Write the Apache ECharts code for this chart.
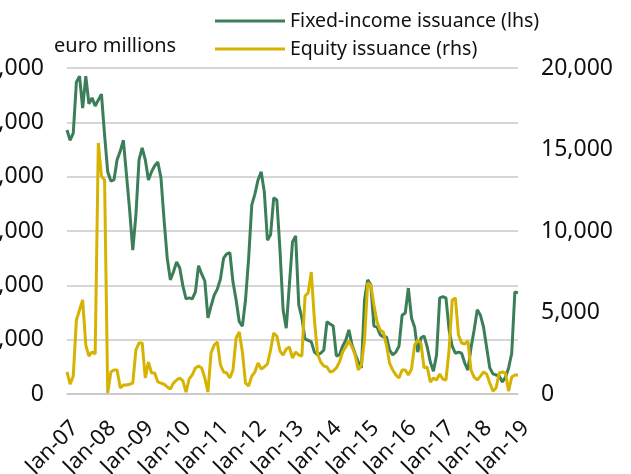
<!DOCTYPE html>
<html>
<head>
<meta charset="utf-8">
<script src="https://cdn.jsdelivr.net/npm/echarts@6/dist/echarts.min.js"></script>
<style>
html,body{margin:0;padding:0;background:#fff;}
#chart{width:631px;height:474px;}
</style>
</head>
<body>
<div id="chart"></div>
<script>
// Monthly, Jan-07 .. Jan-19
var startYear = 2007;
var monthNames = ["Jan","Feb","Mar","Apr","May","Jun","Jul","Aug","Sep","Oct","Nov","Dec"];
var categories = [];
for (var i = 0; i < 145; i++) {
  var y = startYear + Math.floor(i / 12);
  categories.push(monthNames[i % 12] + "-" + String(y % 100).padStart(2, "0"));
}

// Fixed-income issuance (lhs), euro millions
var fixedIncome = [
  48600,46700,48000,57400,58500,52600,58500,53400,54500,53000,54100,55200,
  47700,40900,39200,39400,43100,44700,46700,40300,33900,26500,32900,43100,
  45300,43100,39400,40900,42000,42700,39800,32000,25000,21000,22500,24300,
  23200,19900,17500,17700,17500,18800,23600,22100,20800,14000,16200,18200,
  19300,21200,25000,25800,26000,20600,17300,13300,12500,17300,25000,34800,
  36800,39400,40900,37200,28300,29300,36100,35700,26500,15500,12100,20100,
  28000,29100,16400,14000,10100,9900,9600,7700,7200,7500,8100,13300,
  12900,12500,7000,7200,8800,9900,11800,9000,7400,5900,4800,17300,
  21000,20100,12500,12300,10900,10500,10500,8100,7200,7700,8800,14500,
  14900,19500,14000,12300,7700,10300,10700,8700,5900,4200,7200,17700,
  17900,17700,11800,8800,7500,7700,7500,5700,4400,8500,11800,15500,
  14500,12300,8500,4800,3700,3500,3300,2200,3100,4800,7500,18800,
  18600
];

// Equity issuance (rhs), euro millions
var equity = [
  1350,600,1100,4540,5150,5770,3000,2330,2580,2450,15400,13370,
  13130,60,1350,1470,1470,370,550,550,600,670,2700,3130,
  3130,980,1960,1290,1290,740,670,600,430,310,670,860,
  980,800,120,920,1170,1600,1720,1600,980,120,2520,3000,
  3190,1780,1350,1290,980,1470,3440,3800,2580,670,490,1100,
  1350,1900,1530,1660,1840,2700,3740,3560,2640,2390,2760,2880,
  2210,2580,2390,2330,6010,6200,7480,4540,2450,1960,1720,1660,
  1350,1410,1600,1960,2580,2880,3250,2880,2390,1470,1780,3310,
  6810,6690,5460,4420,3930,3800,3000,1900,1470,1170,980,1470,
  1470,1170,1530,3000,3310,3130,1600,1660,740,980,860,1230,
  920,860,2700,5770,5890,3620,3130,3070,3250,1470,1040,860,
  1100,1350,1230,670,180,370,1290,1350,1290,180,1040,1170,
  1170
];

var leftTicks = { min: 0, max: 60000, interval: 10000 };
var rightTicks = { min: 0, max: 20000, interval: 5000 };

var GREEN = "#3b7e58";
var YELLOW = "#d6b300";
var FONT = "Noto Sans";

var chart = echarts.init(document.getElementById("chart"), null, { renderer: "canvas" });
chart.setOption({
  animation: false,
  backgroundColor: "#ffffff",
  textStyle: { fontFamily: FONT },
  grid: { left: 67, right: 113, top: 68, bottom: 80, containLabel: false, outerBoundsMode: "none" },
  legend: {
    orient: "vertical",
    left: 210,
    top: 6,
    itemWidth: 70,
    itemHeight: 3,
    itemGap: 8,
    icon: "rect",
    textStyle: { fontFamily: FONT, fontSize: 19.5, color: "#111", padding: [0, 0, 0, 0] },
    data: ["Fixed-income issuance (lhs)", "Equity issuance (rhs)"]
  },
  graphic: [{
    type: "text",
    left: 54,
    top: 36,
    style: { text: "euro millions", font: "20px 'Noto Sans'", fill: "#111" }
  }],
  xAxis: {
    type: "category",
    data: categories,
    boundaryGap: false,
    axisLine: { show: true, lineStyle: { color: "#c8c8c8", width: 1.5 } },
    axisTick: { show: false },
    axisLabel: {
      interval: 11,
      rotate: 45,
      margin: 23,
      verticalAlign: "top",
      fontFamily: FONT,
      fontSize: 22,
      color: "#111"
    }
  },
  yAxis: [{
    type: "value",
    min: leftTicks.min, max: leftTicks.max, interval: leftTicks.interval,
    axisLine: { show: false },
    axisTick: { show: false },
    splitLine: { show: true, lineStyle: { color: "#c8c8c8", width: 1.5 } },
    axisLabel: {
      margin: 23,
      fontFamily: FONT, fontSize: 23, color: "#111",
      formatter: function (v) { return v.toLocaleString("en-US"); }
    }
  }, {
    type: "value",
    position: "right",
    min: rightTicks.min, max: rightTicks.max, interval: rightTicks.interval,
    axisLine: { show: false },
    axisTick: { show: false },
    splitLine: { show: false },
    axisLabel: {
      margin: 23,
      fontFamily: FONT, fontSize: 23, color: "#111",
      formatter: function (v) { return v.toLocaleString("en-US"); }
    }
  }],
  series: [{
    name: "Fixed-income issuance (lhs)",
    type: "line",
    yAxisIndex: 0,
    data: fixedIncome,
    symbol: "none",
    lineStyle: { color: GREEN, width: 3 },
    itemStyle: { color: GREEN }
  }, {
    name: "Equity issuance (rhs)",
    type: "line",
    yAxisIndex: 1,
    data: equity,
    symbol: "none",
    lineStyle: { color: YELLOW, width: 3 },
    itemStyle: { color: YELLOW }
  }]
});
</script>
</body>
</html>
